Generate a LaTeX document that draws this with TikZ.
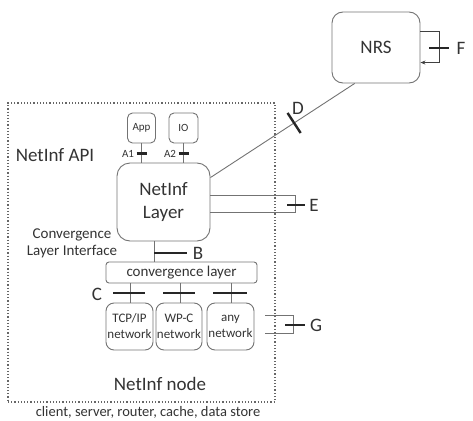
\documentclass[tikz,border=0pt]{standalone}
\usepackage{fontspec}
\setmainfont{Carlito}
\usetikzlibrary{arrows.meta,calc}
\definecolor{textc}{gray}{0.2}
\definecolor{linec}{gray}{0.45}
\begin{document}
\begin{tikzpicture}[x=1pt,y=-1pt,
  box/.style={draw=linec, line width=0.9pt, rounded corners=#1, inner sep=0pt, text=textc, align=center},
  box/.default=6pt,
  wire/.style={draw=linec, line width=0.9pt},
  tickmark/.style={draw=black!85, line width=2.4pt},
  lab/.style={text=textc, inner sep=0pt, align=center},
  big/.style={font=\fontsize{19}{23}\selectfont},
  mid/.style={font=\fontsize{15}{17}\selectfont},
  small/.style={font=\fontsize{13}{16}\selectfont},
  tiny/.style={font=\fontsize{11}{13}\selectfont},
]
\useasboundingbox (0,0) rectangle (473,420);

% container
\node[draw=black!60, dotted, line width=1.2pt, minimum width=267pt, minimum height=299pt, inner sep=0pt] (frame) at (141.5,252.5) {};

% boxes
\node[box=11pt, big, minimum width=88pt, minimum height=71pt] (nrs) at (376,47.5) {NRS};
\node[box=5pt, tiny, minimum width=28pt, minimum height=30pt] (app) at (141.5,128) {App};
\node[box=5pt, tiny, minimum width=29pt, minimum height=30pt] (io) at (183.5,128) {IO};
\node[box=13pt, big, minimum width=93pt, minimum height=78pt] (layer) at (163.5,202) {NetInf\\Layer};
\node[box=3pt, mid, minimum width=151pt, minimum height=21pt] (conv) at (181.5,272.5) {convergence layer};
\node[box=8pt, small, minimum width=47pt, minimum height=47pt] (tcp) at (129.5,326.5) {TCP/IP\\network};
\node[box=8pt, small, minimum width=46pt, minimum height=47pt] (wpc) at (179,326.5) {WP-C\\network};
\node[box=8pt, small, minimum width=47pt, minimum height=47pt] (any) at (230.5,326.5) {any\\network};

% text labels
\node[lab, big] (api) at (55,155) {NetInf API};
\node[lab, mid] (cli) at (72,243.5) {Convergence\\Layer Interface};
\node[lab, big] (nnode) at (160,384) {NetInf node};
\node[lab, font=\fontsize{14.5}{16}\selectfont] (roles) at (148,412) {client, server, router, cache, data store};
\node[lab, tiny] (la1) at (128,154) {A1};
\node[lab, tiny] (la2) at (170,154) {A2};
\node[lab, big] (ld) at (298,108) {D};
\node[lab, big] (le) at (314,205) {E};
\node[lab, big] (lf) at (461,48) {F};
\node[lab, big] (lg) at (316,325) {G};
\node[lab, big] (lb) at (198,253) {B};
\node[lab, big] (lc) at (97,294) {C};

% A1, A2
\draw[wire] (app.south) -- (app.south |- layer.north);
\draw[tickmark] ($(app.south)+(-5,10)$) -- ($(app.south)+(5,10)$);
\draw[wire] (io.south) -- (io.south |- layer.north);
\draw[tickmark] ($(io.south)+(-5,10)$) -- ($(io.south)+(5,10)$);

% D
\coordinate (d1) at ($(nrs.south west)!0.26!(nrs.south east)$);
\coordinate (d2) at ($(layer.north east)+(0,15)$);
\draw[wire] (d1) -- (d2);
\coordinate (dm) at ($(d1)!0.42!(d2)$);
\draw[tickmark] ($(dm)!12pt!90:(d2)$) -- ($(dm)!12pt!-90:(d2)$);

% E
\coordinate (e1) at ($(layer.north east)+(0,33)$);
\coordinate (e2) at ($(layer.north east)+(0,50)$);
\coordinate (ex) at (295,0);
\draw[wire] (e1) -- (e1 -| ex) -- (e2 -| ex) -- (e2);
\draw[tickmark] (287,205) -- (305,205);

% F
\coordinate (f1) at ($(nrs.north east)+(0,20)$);
\coordinate (f2) at ($(nrs.north east)+(0,51)$);
\coordinate (fx) at (439,0);
\draw[wire, -{Stealth[length=5pt,width=4pt]}, draw=black!75] (f1) -- (f1 -| fx) -- (f2 -| fx) -- (f2);
\draw[tickmark] (429,48) -- (449,48);

% B
\draw[wire] (layer.south |- conv.north) ++(-9.5,0) coordinate (bx) -- (bx |- layer.south);
\draw[tickmark] (154,253) -- (187,253);

% C
\foreach \n in {tcp,wpc,any}{
  \draw[wire] (\n.north) ++(1,0) coordinate (cx) -- (cx |- conv.south);
}
\draw[tickmark] (113,293) -- (145,293);
\draw[tickmark] (163,293) -- (195,293);
\draw[tickmark] (213,293) -- (247,293);

% G
\coordinate (g1) at (265,315);
\coordinate (g2) at (265,333);
\coordinate (gx) at (293,0);
\draw[wire] (g1) -- (g1 -| gx) -- (g2 -| gx) -- (g2);
\draw[tickmark] (285,325) -- (305,325);
\end{tikzpicture}
\end{document}
